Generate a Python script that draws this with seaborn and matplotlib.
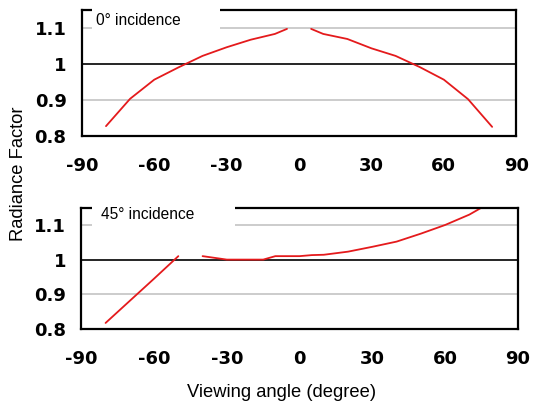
import numpy as np
import pandas as pd
import seaborn as sns
import matplotlib
matplotlib.use("Agg")
import matplotlib.pyplot as plt
from matplotlib.patches import Rectangle

nan = np.nan
# 0 degree incidence
angles_0 = [-80, -70, -60, -50, -40, -30, -20, -10, -5, 0, 5, 10, 20, 30, 40, 50, 60, 70, 80]
rf_0 = [0.827, 0.903, 0.956, 0.990, 1.022, 1.046, 1.067, 1.083, 1.097, nan,
        1.097, 1.083, 1.069, 1.043, 1.022, 0.991, 0.956, 0.902, 0.825]
# 45 degree incidence
angles_45 = [-80, -70, -60, -50, -45, -40, -30, -20, -15, -10, 0, 5, 10, 20, 30, 40, 50, 60, 70, 80]
rf_45 = [0.817, 0.881, 0.945, 1.010, nan, 1.010, 1.000, 1.000, 1.000, 1.010, 1.010,
         1.013, 1.014, 1.023, 1.037, 1.052, 1.075, 1.100, 1.130, 1.170]

x_ticks = [-90, -60, -30, 0, 30, 60, 90]
y_ticks = [0.8, 0.9, 1.0, 1.1]
y_ticklabels = ["0.8", "0.9", "1", "1.1"]
panel_titles = ["0\u00b0 incidence", "45\u00b0 incidence"]


def to_frame(x, y):
    df = pd.DataFrame({"angle": x, "rf": y})
    df["seg"] = df["rf"].isna().cumsum()
    return df.dropna()


sns.set_style("white")
plt.rcParams["font.family"] = ["DejaVu Sans"]
plt.rcParams["text.color"] = "black"
plt.rcParams["xtick.color"] = "black"
plt.rcParams["ytick.color"] = "black"
plt.rcParams["xtick.labelcolor"] = "black"
plt.rcParams["ytick.labelcolor"] = "black"

fig = plt.figure(figsize=(5.35, 4.08), dpi=100)
ax1 = fig.add_axes([0.153, 0.667, 0.812, 0.309])
ax2 = fig.add_axes([0.152, 0.194, 0.816, 0.297])

red = "#e41a1c"
lab_font = "Liberation Sans"

boxes = [(0.023, 0.318, 0.825, 0.032, 0.915), (0.025, 0.352, 0.835, 0.046, 0.94)]

for ax, (xs, ys), title, box in zip([ax1, ax2], [(angles_0, rf_0), (angles_45, rf_45)],
                                    panel_titles, boxes):
    df = to_frame(xs, ys)
    for v in [0.8, 0.9, 1.1]:
        ax.axhline(v, color="#c8c8c8", lw=1.3, zorder=1)
    ax.axhline(1.0, color="black", lw=1.2, zorder=1)
    sns.lineplot(data=df, x="angle", y="rf", units="seg", estimator=None,
                 color=red, lw=1.3, ax=ax, legend=False, zorder=2)
    ax.set_xlim(-90, 90)
    ax.set_ylim(0.8, 1.15)
    ax.set_xticks(x_ticks)
    ax.set_xticklabels([str(t) for t in x_ticks])
    ax.set_yticks(y_ticks)
    ax.set_yticklabels(y_ticklabels)
    ax.set_xlabel("")
    ax.set_ylabel("")
    ax.tick_params(axis="both", direction="in", length=5, width=1.3, color="black",
                   labelcolor="black", labelsize=13)
    ax.tick_params(axis="x", pad=15)
    ax.tick_params(axis="y", pad=11)
    for lbl in ax.get_xticklabels() + ax.get_yticklabels():
        lbl.set_fontweight("bold")
        lbl.set_color("black")
    for s in ax.spines.values():
        s.set_visible(True)
        s.set_color("black")
        s.set_linewidth(1.6)
    x0, x1, y0, tx, ty = box
    ax.add_patch(Rectangle((x0, y0), x1 - x0, 0.3, transform=ax.transAxes,
                           facecolor="white", edgecolor="none", zorder=5, clip_on=False))
    ax.text(tx, ty, title, transform=ax.transAxes, ha="left", va="center",
            fontsize=11.2, family=lab_font, color="black", zorder=6)

fig.text(0.034, 0.574, "Radiance Factor", rotation=90, ha="center", va="center",
         fontsize=13.2, family=lab_font, color="black")
fig.text(0.527, 0.037, "Viewing angle (degree)", ha="center", va="center",
         fontsize=13.2, family=lab_font, color="black")

fig.savefig("out.png", dpi=100)
